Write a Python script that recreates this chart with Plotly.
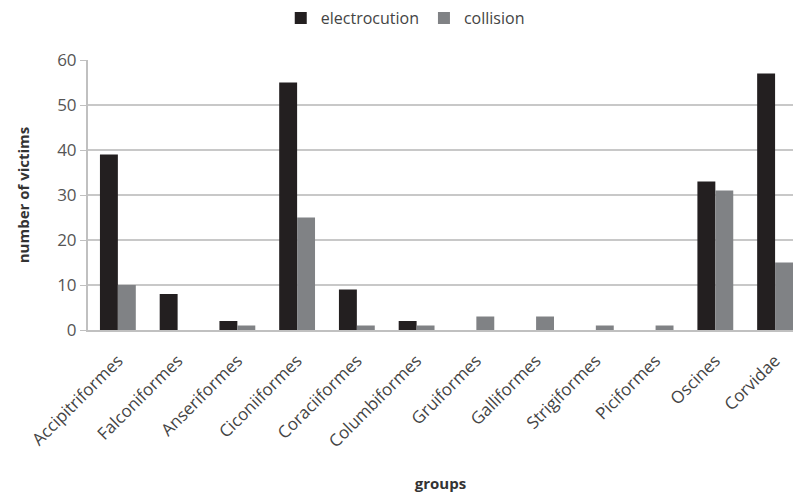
import plotly.graph_objects as go

categories = ["Accipitriformes", "Falconiformes", "Anseriformes", "Ciconiiformes",
              "Coraciiformes", "Columbiformes", "Gruiformes", "Galliformes",
              "Strigiformes", "Piciformes", "Oscines", "Corvidae"]
electrocution = [39, 8, 2, 55, 9, 2, 0, 0, 0, 0, 33, 57]
collision = [10, 0, 1, 25, 1, 1, 3, 3, 1, 1, 31, 15]
y_ticks = [0, 10, 20, 30, 40, 50, 60]

FONT = "Open Sans"

fig = go.Figure()
fig.add_trace(go.Bar(x=categories, y=electrocution, name="electrocution",
                     marker=dict(color="#231f20", line=dict(width=0))))
fig.add_trace(go.Bar(x=categories, y=collision, name="collision",
                     marker=dict(color="#808285", line=dict(width=0))))

fig.update_layout(
    width=793, height=499,
    margin=dict(l=88, r=0, t=60, b=169, autoexpand=False),
    paper_bgcolor="white", plot_bgcolor="white",
    barmode="group", bargap=0.4, bargroupgap=0,
    font=dict(family=FONT, color="#444", size=15),
    legend=dict(orientation="h", x=0.45, xanchor="center", y=0.998, yanchor="top",
                yref="container", font=dict(size=16, color="#444"),
                traceorder="normal"),
    showlegend=True,
)

fig.update_xaxes(
    type="category", range=[-0.5, 11.3], automargin=False,
    tickangle=-45, tickfont=dict(family=FONT, size=17, color="#444"),
    ticklabelstandoff=12,
    showline=True, linecolor="#c0c0c0", linewidth=2, ticks="",
    showgrid=False,
    title=dict(text="<b>groups</b>", font=dict(size=15, color="#333"), standoff=28),
)
fig.update_yaxes(
    range=[0, 60], tickvals=y_ticks, automargin=False,
    tickfont=dict(size=17, color="#555"),
    showgrid=True, gridcolor="#c8c8c8", gridwidth=2,
    showline=True, linecolor="#c0c0c0", linewidth=2,
    ticks="outside", ticklen=6, tickcolor="#c0c0c0",
    zeroline=False,
    title=dict(text="<b>number of victims</b>", font=dict(size=15, color="#333"), standoff=24),
)

fig.write_html("out.html", config={"displayModeBar": False},
               post_script="document.body.style.margin='0';document.body.style.overflow='hidden';")
